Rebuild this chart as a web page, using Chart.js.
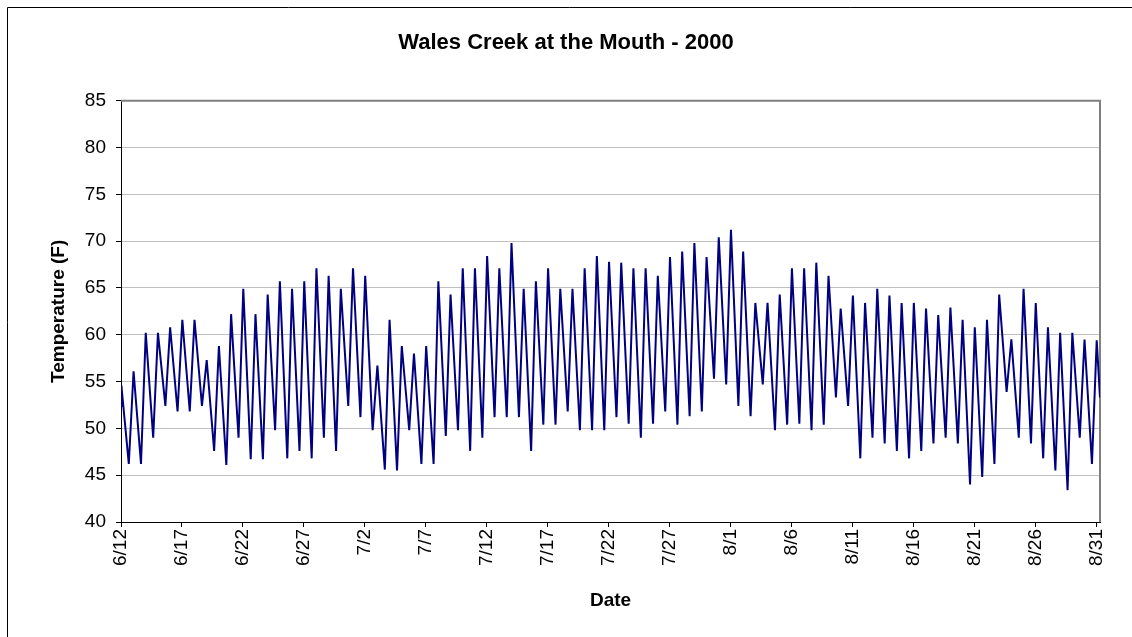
<!DOCTYPE html>
<html>
<head>
<meta charset="utf-8">
<script src="https://cdn.jsdelivr.net/npm/chart.js@4/dist/chart.umd.min.js"></script>
<style>
    body { margin: 0; background: #fff; }
    canvas { display: block; }
</style>
</head>
<body>
<canvas id="chart" width="1132" height="637"></canvas>
<script>
const tickLabels = ["6/12", "6/17", "6/22", "6/27", "7/2", "7/7", "7/12", "7/17", "7/22",
    "7/27", "8/1", "8/6", "8/11", "8/16", "8/21", "8/26", "8/31"];

// daily highs and lows, deg F, one per day starting 6/12
const juneHighs = [54.6, 56.1, 60.2, 60.2, 60.8, 61.6, 61.6, 57.3, 58.8, 62.2,
    64.9, 62.2, 64.3, 65.7, 64.9, 65.7, 67.1, 66.3, 64.9];
const juneLows = [46.2, 46.2, 49.0, 52.4, 51.8, 51.8, 52.4, 47.6, 46.1, 49.0,
    46.7, 46.7, 49.8, 46.8, 47.6, 46.8, 49.0, 47.6, 52.4];
const julyHighs = [67.1, 66.3, 56.7, 61.6, 58.8, 58.0, 58.8, 65.7, 64.3, 67.1,
    67.1, 68.4, 67.1, 69.8, 64.9, 65.7, 67.1, 64.9, 64.9, 67.1,
    68.4, 67.8, 67.7, 67.1, 67.1, 66.3, 68.3, 68.9, 69.8, 68.3, 70.4];
const julyLows = [51.2, 49.8, 45.6, 45.5, 49.8, 46.2, 46.2, 49.2, 49.8, 47.6,
    49.0, 51.2, 51.2, 51.2, 47.6, 50.4, 50.4, 51.8, 49.8, 49.8,
    49.8, 51.2, 50.5, 49.0, 50.5, 51.8, 50.4, 51.3, 51.8, 55.3, 54.7];
const augustHighs = [71.2, 68.9, 63.4, 63.4, 64.3, 67.1, 67.1, 67.7, 66.3, 62.8,
    64.2, 63.4, 64.9, 64.2, 63.4, 63.4, 62.8, 62.1, 62.9, 61.6,
    60.8, 61.6, 64.3, 59.5, 64.9, 63.4, 60.8, 60.2, 60.2, 59.5, 59.4];
const augustLows = [52.4, 51.3, 54.7, 49.8, 50.4, 50.5, 49.8, 50.4, 53.3, 52.4,
    46.8, 49.0, 48.4, 47.6, 46.8, 47.6, 48.4, 49.0, 48.4, 44.0,
    44.8, 46.2, 53.9, 49.0, 48.4, 46.8, 45.5, 43.4, 49.0, 46.2];
const openingTemp = 52.4;
const closingTemp = 53.3;

const peakOffset = 0.03;   // fraction of day where the high sits
const lowOffset = 0.64;
const lastDay = 80.3;

const highs = juneHighs.concat(julyHighs, augustHighs);
const lows = juneLows.concat(julyLows, augustLows);

const points = [{ x: 0, y: openingTemp }];
highs.forEach((h, d) => {
    points.push({ x: d + peakOffset, y: h });
    if (d < lows.length) points.push({ x: d + lowOffset, y: lows[d] });
});
points.push({ x: lastDay, y: closingTemp });

const fontFamily = "'Liberation Sans', Arial, sans-serif";
const lineColor = "#000080";

const frame = {
    id: "frame",
    beforeDraw(chart) {
        const ctx = chart.ctx;
        ctx.save();
        ctx.strokeStyle = "#000";
        ctx.lineWidth = 1;
        ctx.beginPath();
        ctx.moveTo(7.5, 637);
        ctx.lineTo(7.5, 7.5);
        ctx.lineTo(1132, 7.5);
        ctx.stroke();
        ctx.restore();
    },
    beforeDatasetsDraw(chart) {
        const a = chart.chartArea;
        const ctx = chart.ctx;
        ctx.save();
        ctx.strokeStyle = "#808080";
        ctx.lineWidth = 2;
        ctx.beginPath();
        ctx.moveTo(a.left, a.top);
        ctx.lineTo(a.right, a.top);
        ctx.lineTo(a.right, a.bottom);
        ctx.stroke();
        ctx.restore();
    }
};

new Chart(document.getElementById("chart"), {
    type: "scatter",
    data: {
        datasets: [{
            data: points,
            showLine: true,
            borderColor: lineColor,
            backgroundColor: lineColor,
            borderWidth: 2,
            pointRadius: 0,
            tension: 0
        }]
    },
    options: {
        responsive: false,
        animation: false,
        layout: {
            padding: { left: 32, right: 32, top: 0, bottom: 21 }
        },
        plugins: {
            legend: { display: false },
            tooltip: { enabled: false },
            title: {
                display: true,
                text: "Wales Creek at the Mouth - 2000",
                color: "#000",
                font: { family: fontFamily, size: 22, weight: "bold" },
                padding: { top: 29.8, bottom: 44.5 }
            }
        },
        scales: {
            x: {
                type: "linear",
                min: 0,
                max: lastDay,
                afterBuildTicks: s => {
                    s.ticks = tickLabels.map((_, i) => ({ value: i * 5 }));
                },
                afterFit: s => { s.height = 94; },
                grid: {
                    drawOnChartArea: false,
                    tickColor: "#000",
                    tickLength: 5
                },
                border: { color: "#000", width: 1 },
                ticks: {
                    color: "#000",
                    autoSkip: false,
                    minRotation: 90,
                    maxRotation: 90,
                    padding: 2,
                    font: { family: fontFamily, size: 19 },
                    callback: v => tickLabels[Math.round(v / 5)]
                },
                title: {
                    display: true,
                    text: "Date",
                    color: "#000",
                    font: { family: fontFamily, size: 19, weight: "bold" },
                    padding: { top: 4, bottom: 4 }
                }
            },
            y: {
                min: 40,
                max: 85,
                afterFit: s => { s.width = 89; },
                grid: {
                    color: "#c0c0c0",
                    tickColor: "#000",
                    tickLength: 5
                },
                border: { color: "#000", width: 1 },
                ticks: {
                    stepSize: 5,
                    color: "#000",
                    padding: 10,
                    font: { family: fontFamily, size: 19 }
                },
                title: {
                    display: true,
                    text: "Temperature (F)",
                    color: "#000",
                    font: { family: fontFamily, size: 19, weight: "bold" },
                    padding: { top: 15.6, bottom: 4 }
                }
            }
        }
    },
    plugins: [frame]
});
</script>
</body>
</html>
